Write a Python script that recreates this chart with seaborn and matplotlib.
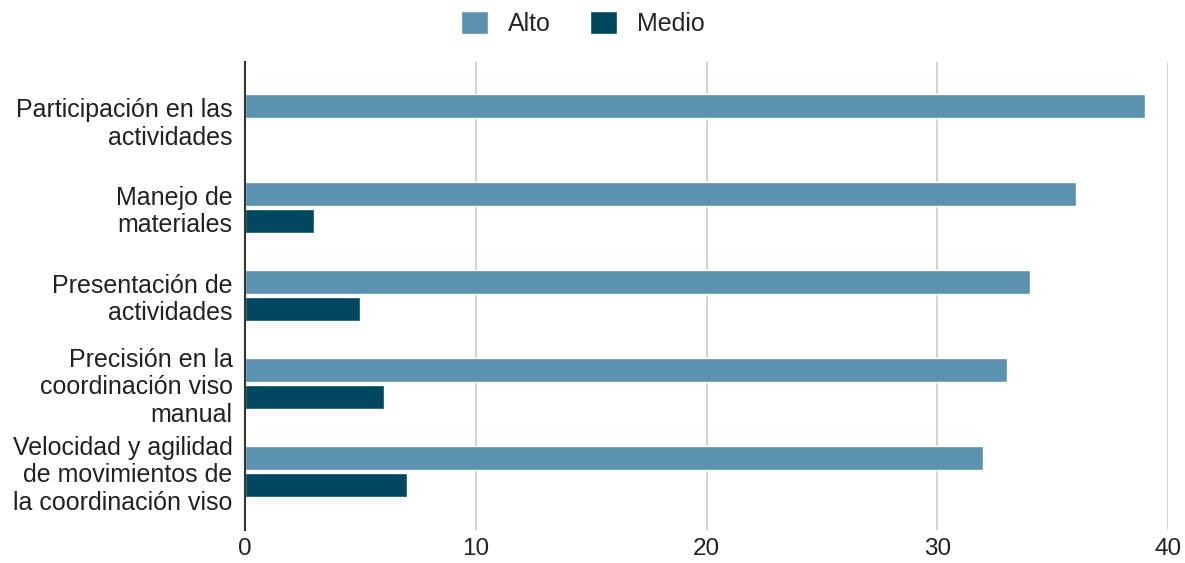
import pandas as pd
import seaborn as sns
import matplotlib.pyplot as plt

categorias = [
    'Participación en las\nactividades',
    'Manejo de\nmateriales',
    'Presentación de\nactividades',
    'Precisión en la\ncoordinación viso\nmanual',
    'Velocidad y agilidad\nde movimientos de\nla coordinación viso',
]
alto = [39, 36, 34, 33, 32]
medio = [0, 3, 5, 6, 7]
ticks_x = [0, 10, 20, 30, 40]

df = pd.DataFrame({
    'categoria': categorias * 2,
    'valor': alto + medio,
    'nivel': ['Alto'] * len(alto) + ['Medio'] * len(medio),
})

sns.set_style('white')
plt.rcParams['font.family'] = ['Liberation Sans', 'DejaVu Sans']

fig = plt.figure(figsize=(11.85, 5.63), dpi=100)
ax = fig.add_axes([0.2068, 0.0586, 0.7789, 0.8313])

sns.barplot(data=df, y='categoria', x='valor', hue='nivel',
            palette={'Alto': '#5a92af', 'Medio': '#01465f'},
            width=0.62, gap=0.12, orient='h', ax=ax, saturation=1)

ax.set_xlim(0, 40)
ax.set_ylim(4.67, -0.66)
ax.set_xticks(ticks_x)
ax.set_xticklabels([str(t) for t in ticks_x], fontsize=17.5, color='#222222')
ax.tick_params(axis='y', labelsize=18, colors='#222222', length=0, pad=9)
ax.tick_params(axis='x', length=0, pad=6)
for lbl in ax.get_yticklabels():
    lbl.set_horizontalalignment('right')
    lbl.set_linespacing(1.17)
ax.set_xlabel('')
ax.set_ylabel('')

ax.grid(axis='x', color='#cccccc', linewidth=1.2)
ax.set_axisbelow(True)
for s in ['top', 'right', 'bottom']:
    ax.spines[s].set_visible(False)
ax.spines['left'].set_color('#333333')
ax.spines['left'].set_linewidth(1.5)
ax.spines['left'].set_zorder(5)

ax.legend(loc='center', bbox_to_anchor=(0.366, 1.083), ncol=2, frameon=False,
          fontsize=18, handlelength=1.05, handleheight=1.05, columnspacing=1.6,
          handletextpad=0.8, title=None)

fig.savefig('out.png', dpi=100)
